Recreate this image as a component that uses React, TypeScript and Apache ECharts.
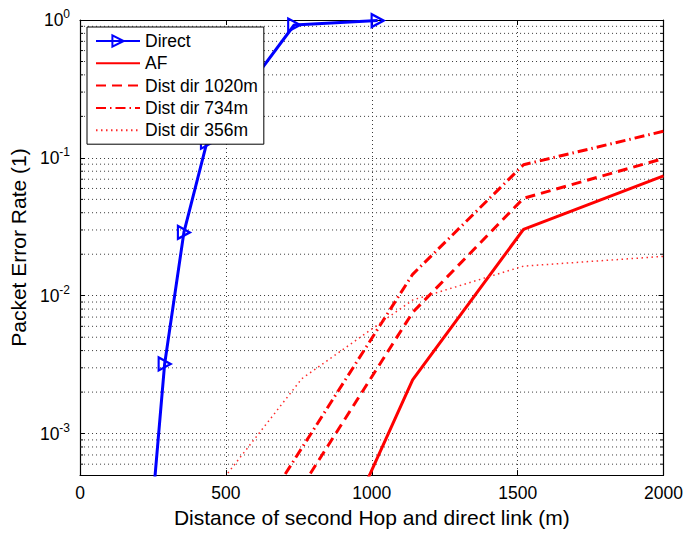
import React, { useEffect, useRef } from "react";
import * as echarts from "echarts";

// Axis ranges and tick labels
const xMin = 0;
const xMax = 2000;
const xInterval = 500;
const yMin = 5e-4;
const yMax = 1;
const yDecadeExponents = [-3, -2, -1, 0];

// Direct link
const directX = [250, 290, 356, 435, 734, 1020];
const directY = [3.3e-4, 3.2e-3, 0.0288, 0.13, 0.92, 0.99];

// Amplify-and-forward relay
const afX = [760, 1140, 1520, 2000];
const afY = [4.1e-5, 2.45e-3, 0.0303, 0.074];

// Distributed direct, 1020 m
const d1020X = [760, 1140, 1520, 2000];
const d1020Y = [4.1e-4, 7.56e-3, 0.0509, 0.0989];

// Distributed direct, 734 m
const d734X = [380, 760, 1140, 1520, 2000];
const d734Y = [4.3e-5, 7.85e-4, 0.0143, 0.0891, 0.156];

// Distributed direct, 356 m
const d356X = [380, 760, 1140, 1520, 2000];
const d356Y = [2.35e-4, 2.5e-3, 9.3e-3, 0.0164, 0.0193];

const seriesNames = ["Direct", "AF", "Dist dir 1020m", "Dist dir 734m", "Dist dir 356m"];

const FONT = "'Liberation Sans', Arial, Helvetica, sans-serif";
const GRID_COLOR = "#3a3a3a";
const TICK_FONT = 17.5;
const TITLE_FONT = 21;

const zip = (xs: number[], ys: number[]) => xs.map((x, i) => [x, ys[i]]);

// minor log grid values (2..9 x 10^k) inside the visible range
const minorValues: number[] = [];
for (let e = -4; e <= -1; e++) {
  for (let m = 2; m <= 9; m++) {
    const v = m * Math.pow(10, e);
    if (v > yMin * 1.0001 && v < yMax) minorValues.push(v);
  }
}

const decadeLabel = (v: number) => {
  const e = Math.round(Math.log10(v));
  if (Math.abs(Math.log10(v) - e) > 1e-6) return "";
  if (!yDecadeExponents.includes(e)) return "";
  return `{b|10}{s|${e}}`;
};

export default function App() {
  const ref = useRef<HTMLDivElement>(null);

  useEffect(() => {
    if (!ref.current) return;
    const chart = echarts.init(ref.current, null, { renderer: "svg" });

    const tickStyle = { show: true, inside: true, length: 5, lineStyle: { color: "#000", width: 1 } };
    const axisLine = { show: true, onZero: false, lineStyle: { color: "#000", width: 1.2 } };
    const noMarker = { color: "rgba(255,0,0,0)", borderWidth: 0 };

    chart.setOption({
      animation: false,
      backgroundColor: "#fff",
      textStyle: { fontFamily: FONT },
      grid: { left: 79, right: 20, top: 20, bottom: 51, containLabel: false },
      legend: {
        orient: "vertical",
        left: 87,
        top: 27,
        z: 10,
        padding: [5, 6, 5, 8],
        itemGap: 4.3,
        itemWidth: 44,
        itemHeight: 14,
        backgroundColor: "#fff",
        borderColor: "#000",
        borderWidth: 1,
        borderRadius: 0,
        textStyle: { fontSize: TICK_FONT, color: "#000", fontFamily: FONT },
        data: seriesNames,
      },
      xAxis: [
        {
          type: "value",
          min: xMin,
          max: xMax,
          interval: xInterval,
          position: "bottom",
          axisLine,
          axisTick: tickStyle,
          axisLabel: {
            fontSize: TICK_FONT,
            color: "#000",
            margin: 9,
            fontFamily: FONT,
            formatter: (v: number) => String(v),
          },
          splitLine: { show: true, lineStyle: { color: GRID_COLOR, type: [1, 3], width: 1 } },
          name: "Distance of second Hop and direct link (m)",
          nameLocation: "middle",
          nameGap: 27,
          nameTextStyle: { fontSize: TITLE_FONT, color: "#000", fontFamily: FONT },
        },
        {
          type: "value",
          min: xMin,
          max: xMax,
          interval: xInterval,
          position: "top",
          axisLine,
          axisTick: tickStyle,
          axisLabel: { show: false },
          splitLine: { show: false },
        },
      ],
      yAxis: [
        {
          type: "log",
          logBase: 10,
          min: yMin,
          max: yMax,
          position: "left",
          axisLine,
          axisTick: tickStyle,
          axisLabel: {
            color: "#000",
            margin: 10,
            formatter: decadeLabel,
            rich: {
              b: { fontSize: TICK_FONT, fontFamily: FONT, color: "#000" },
              s: { fontSize: 12, fontFamily: FONT, color: "#000", padding: [0, 0, 12, 0] },
            },
          },
          splitLine: { show: true, lineStyle: { color: GRID_COLOR, type: [1, 3], width: 1 } },
          name: "Packet Error Rate (1)",
          nameLocation: "middle",
          nameGap: 45,
          nameTextStyle: { fontSize: TITLE_FONT, color: "#000", fontFamily: FONT },
        },
        {
          type: "log",
          logBase: 10,
          min: yMin,
          max: yMax,
          position: "right",
          axisLine,
          axisTick: tickStyle,
          axisLabel: { show: false },
          splitLine: { show: false },
        },
      ],
      series: [
        {
          // minor log grid lines with inside ticks on both y axes
          type: "custom",
          name: "minor-grid",
          silent: true,
          z: 1,
          data: minorValues.map((v) => [xMin, v]),
          renderItem: (_params: any, api: any) => {
            const y = api.value(1);
            const a = api.coord([xMin, y]);
            const b = api.coord([xMax, y]);
            const seg = (x1: number, x2: number) => ({ x1, y1: a[1], x2, y2: a[1] });
            return {
              type: "group",
              children: [
                {
                  type: "line",
                  shape: seg(a[0], b[0]),
                  style: { stroke: GRID_COLOR, lineWidth: 1, lineDash: [1, 3] },
                },
                { type: "line", shape: seg(a[0], a[0] + 3), style: { stroke: "#000", lineWidth: 1 } },
                { type: "line", shape: seg(b[0] - 3, b[0]), style: { stroke: "#000", lineWidth: 1 } },
              ],
            };
          },
        },
        {
          name: "Direct",
          type: "line",
          z: 3,
          data: zip(directX, directY),
          symbol: "triangle",
          symbolSize: [13, 12],
          symbolRotate: -90,
          showAllSymbol: true,
          lineStyle: { color: "#0000ff", width: 3 },
          itemStyle: { color: "rgba(255,255,255,0)", borderColor: "#0000ff", borderWidth: 2.2 },
          clip: true,
        },
        {
          name: "AF",
          type: "line",
          z: 3,
          data: zip(afX, afY),
          symbol: "none",
          lineStyle: { color: "#ff0000", width: 3 },
          itemStyle: noMarker,
          clip: true,
        },
        {
          name: "Dist dir 1020m",
          type: "line",
          z: 3,
          data: zip(d1020X, d1020Y),
          symbol: "none",
          lineStyle: { color: "#ff0000", width: 3, type: [10, 6] },
          itemStyle: noMarker,
          clip: true,
        },
        {
          name: "Dist dir 734m",
          type: "line",
          z: 3,
          data: zip(d734X, d734Y),
          symbol: "none",
          lineStyle: { color: "#ff0000", width: 3, type: [10, 4, 1.5, 4] },
          itemStyle: noMarker,
          clip: true,
        },
        {
          name: "Dist dir 356m",
          type: "line",
          z: 3,
          data: zip(d356X, d356Y),
          symbol: "none",
          lineStyle: { color: "#ff2a2a", width: 1.5, type: [1.5, 3.5] },
          itemStyle: noMarker,
          clip: true,
        },
      ],
    });

    return () => chart.dispose();
  }, []);

  return (
    <div
      ref={ref}
      style={{ position: "fixed", left: 0, top: 0, width: 686, height: 533, background: "#fff" }}
    />
  );
}
